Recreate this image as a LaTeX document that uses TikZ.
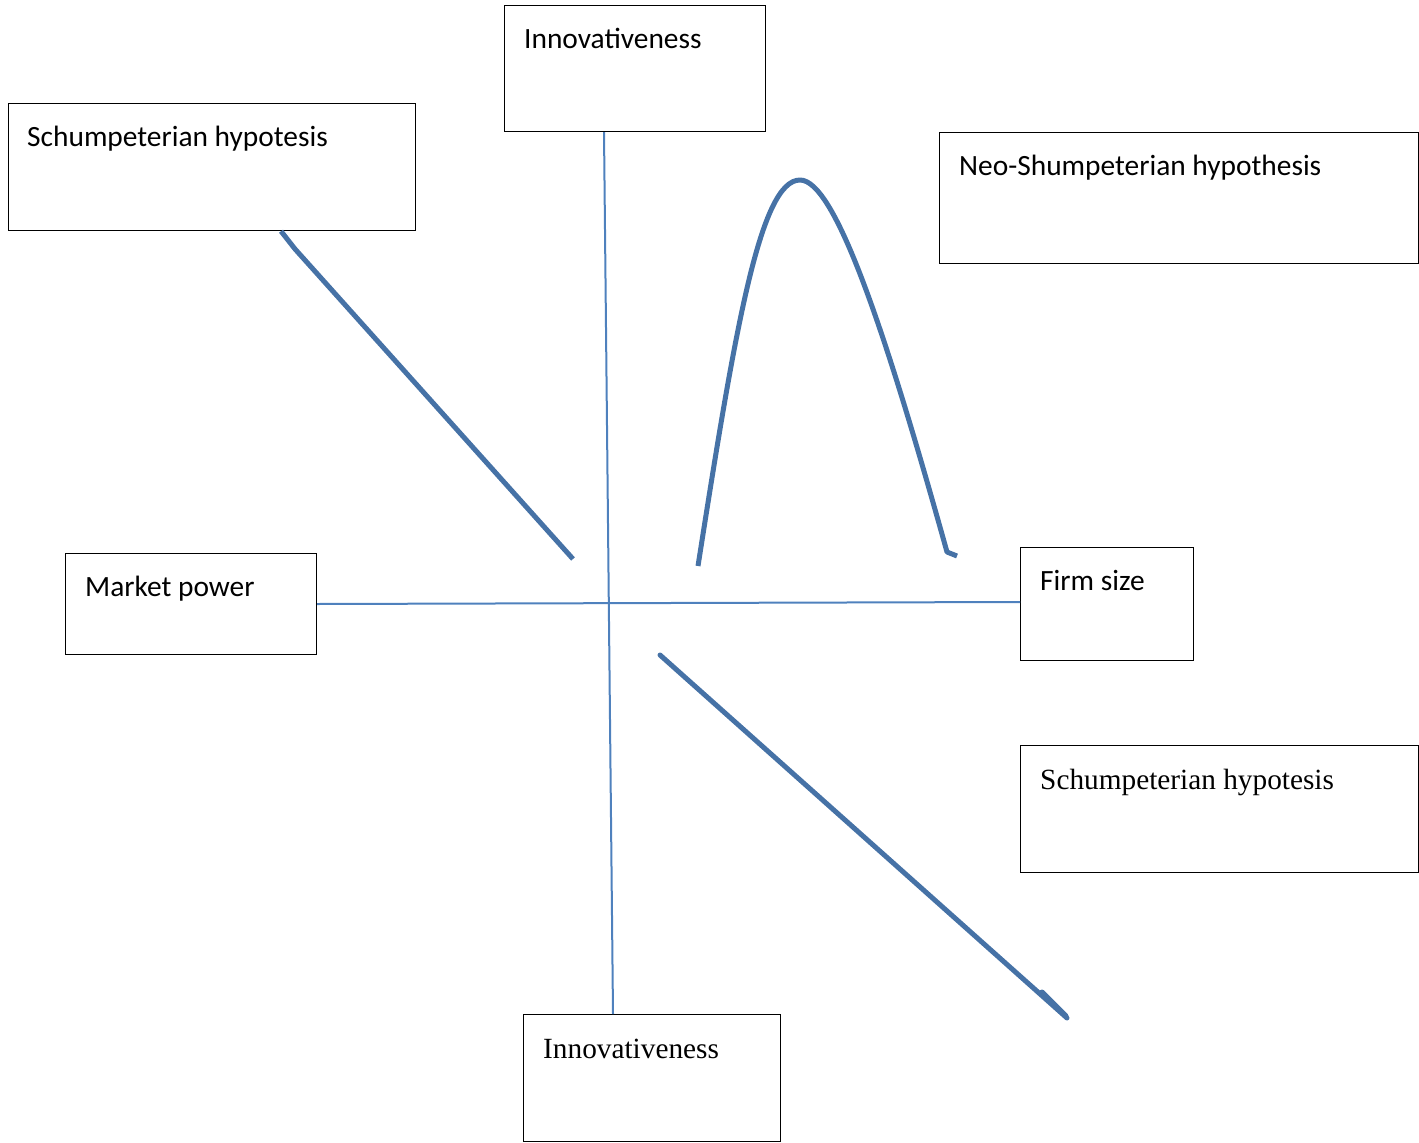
\documentclass[tikz,border=0pt]{standalone}
\usepackage{fontspec}
\setmainfont{Liberation Serif}
\newfontfamily\calib{Carlito}
\usetikzlibrary{calc}
\definecolor{axisblue}{RGB}{79,129,189}
\definecolor{curveblue}{RGB}{70,114,166}
\begin{document}
\begin{tikzpicture}[x=1pt,y=-1pt,
  box/.style={draw=black, line width=1.2pt, inner sep=0pt, anchor=north west},
  sanslbl/.style={font=\calib\fontsize{29.4}{34}\selectfont, inner sep=0pt, anchor=base west},
  seriflbl/.style={font=\fontsize{29.3}{34}\selectfont, inner sep=0pt, anchor=base west},
  axisline/.style={draw=axisblue, line width=2pt},
  trend/.style={draw=curveblue, line width=5pt, line join=round}]
\useasboundingbox (0,0) rectangle (1419,1143);
% boxes
\node[box, minimum width=407pt, minimum height=127pt] (b1) at (8,103) {};
\node[box, minimum width=261pt, minimum height=126pt] (b2) at (504,5) {};
\node[box, minimum width=479pt, minimum height=131pt] (b3) at (939,132) {};
\node[box, minimum width=251pt, minimum height=101pt] (b4) at (65,553) {};
\node[box, minimum width=173pt, minimum height=113pt] (b5) at (1020,547) {};
\node[box, minimum width=398pt, minimum height=127pt] (b6) at (1020,745) {};
\node[box, minimum width=257pt, minimum height=127pt] (b7) at (523,1014) {};
% labels
\node[sanslbl] (t1) at ($(b1.north west)+(19,43)$) {Schumpeterian hypotesis};
\node[sanslbl] (t2) at ($(b2.north west)+(20,43)$) {Innovativeness};
\node[sanslbl] (t3) at ($(b3.north west)+(20,43)$) {Neo-Shumpeterian hypothesis};
\node[sanslbl] (t4) at ($(b4.north west)+(20,43)$) {Market power};
\node[sanslbl] (t5) at ($(b5.north west)+(20,43)$) {Firm size};
\node[seriflbl] (t6) at ($(b6.north west)+(20,44)$) {Schumpeterian hypotesis};
\node[seriflbl] (t7) at ($(b7.north west)+(20,44)$) {Innovativeness};
% axes
\draw[axisline] ($(b2.south west)+(100,0)$) -- ($(b7.north west)+(90,0)$);
\draw[axisline] ($(b4.north east)+(0,51)$) -- ($(b5.north west)+(0,55)$);
% trends
\draw[trend] ($(b1.south west)+(273,0)$) -- (295,249) -- (573,559);
\draw[trend] (698,566) .. controls (735,330) and (760,180) .. (800,180)
  .. controls (835,180) and (885,330) .. (947,552) -- (957,556);
\draw[trend, line cap=round] (660,655) -- (1067,1018);
\draw[trend, line cap=round] (1042,992) -- (1066,1016);
\end{tikzpicture}
\end{document}
